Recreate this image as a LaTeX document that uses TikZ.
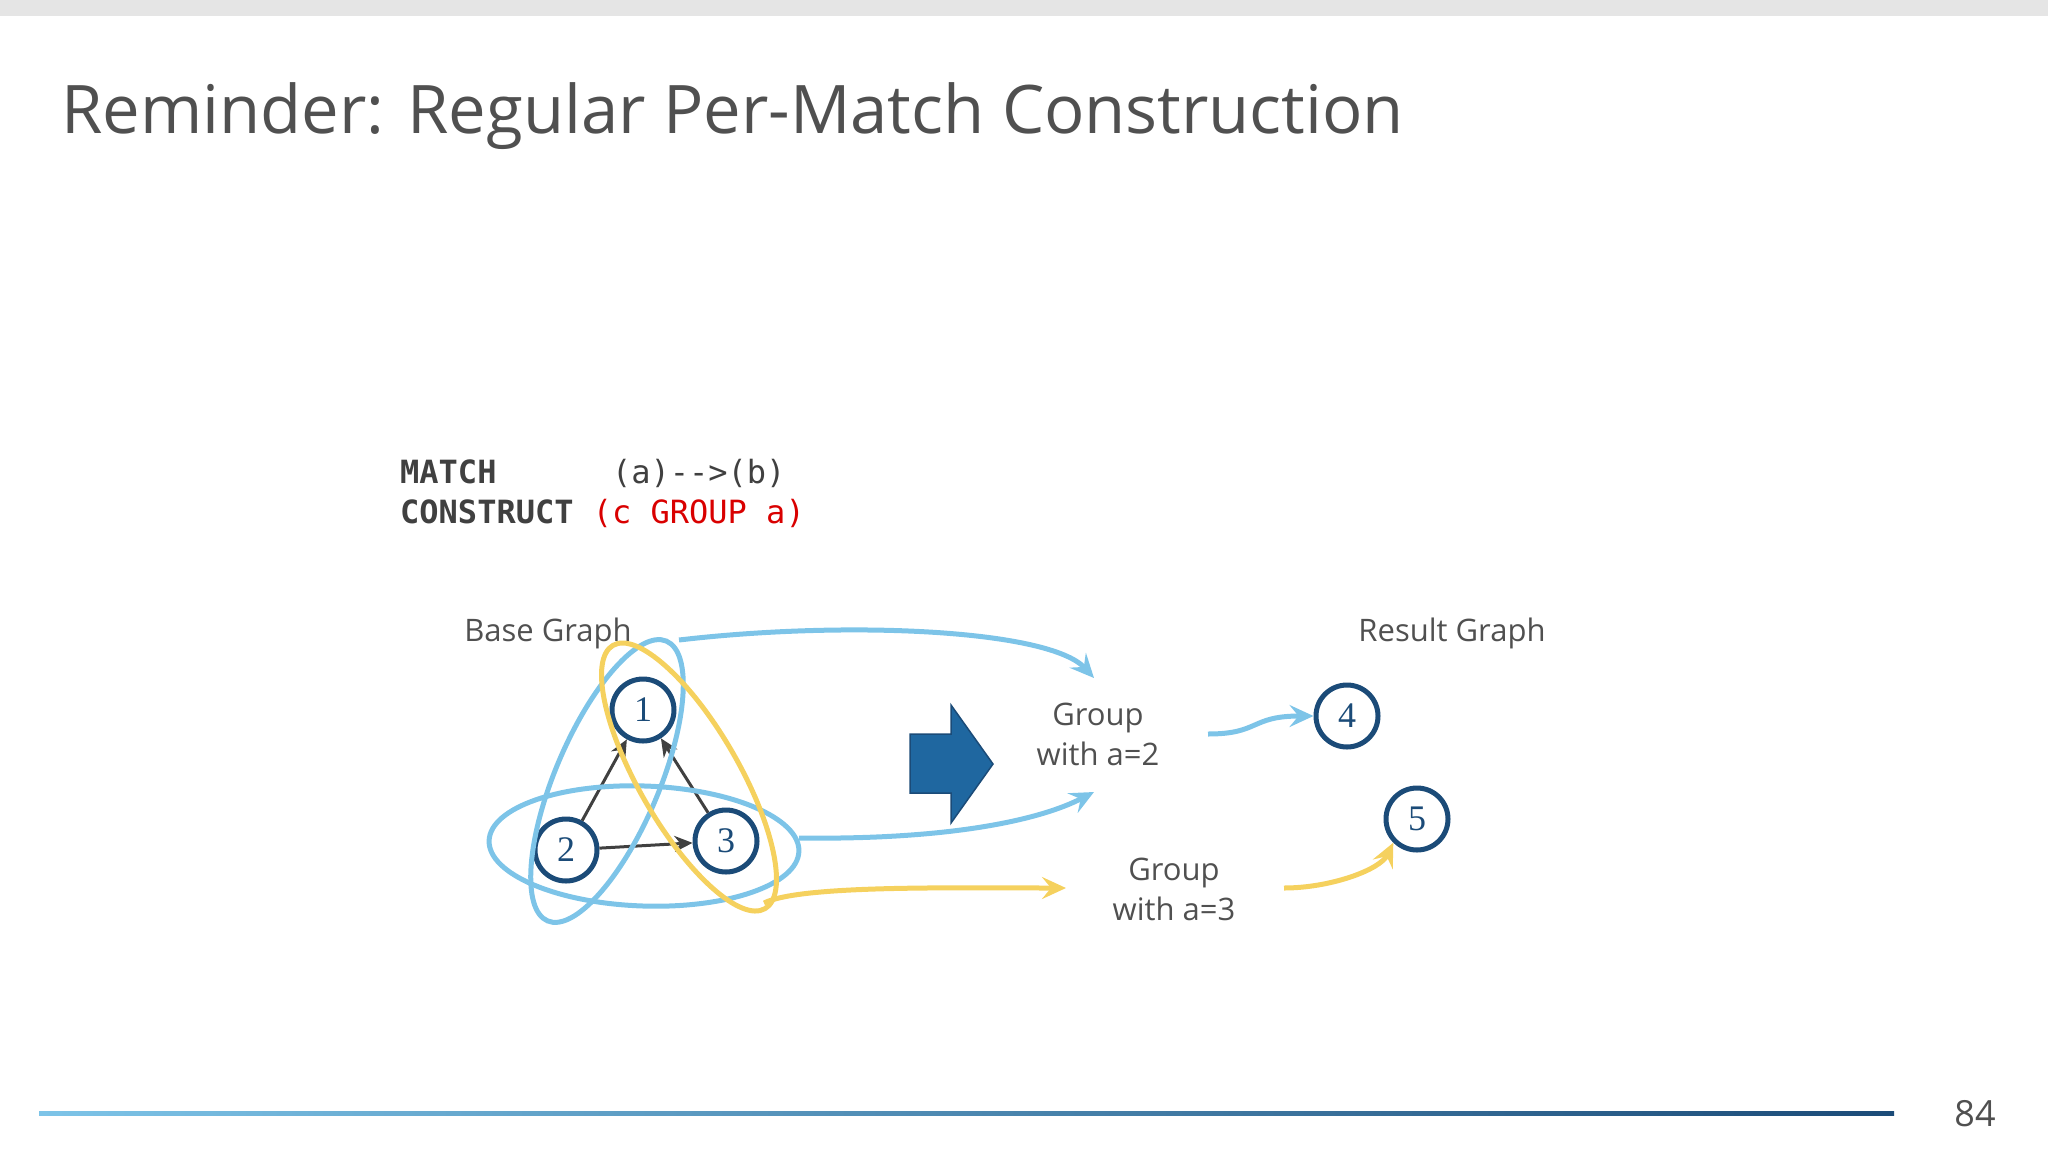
\documentclass[tikz,border=0pt]{standalone}
\usepackage{fontspec}
\setmainfont{Open Sans}
\setmonofont{DejaVu Sans Mono}
\newfontfamily\numfont{Liberation Serif}
\usetikzlibrary{arrows.meta}
\definecolor{nodeblue}{HTML}{1B4B78}
\definecolor{lblue}{HTML}{7DC4E8}
\definecolor{lyellow}{HTML}{F5D15E}
\definecolor{txtgray}{HTML}{505050}
\definecolor{arrblue}{HTML}{1F67A0}
\begin{document}
\begin{tikzpicture}[x=1pt,y=-1pt,
  gnode/.style={circle,draw=nodeblue,line width=5pt,minimum size=62pt,inner sep=0pt,text=nodeblue,font=\fontsize{36}{36}\selectfont\numfont},
  lbl/.style={text=txtgray,font=\fontsize{31}{40}\selectfont,align=center},
  edge/.style={draw=black!75,line width=3pt,-{Stealth[length=18pt,width=16pt]}},
  bcurve/.style={draw=lblue,line width=5pt,-{Stealth[length=24pt,width=22pt,inset=9pt]}},
  ycurve/.style={draw=lyellow,line width=5pt,-{Stealth[length=24pt,width=22pt,inset=9pt]}},
  ell/.style={line width=5pt}]
\useasboundingbox (0,0) rectangle (2048,1152);
\fill[black!10] (0,0) rectangle (2048,16);
\node[anchor=base west,text=txtgray,font=\fontsize{67}{74}\selectfont,inner sep=0pt] (title) at (61,133) {Reminder: Regular Per-Match Construction};
% code
\node[anchor=west,inner sep=0pt,font=\fontsize{32}{36}\selectfont\ttfamily,text=black!75] (c1) at (400,473) {\textbf{MATCH}\ \ \ \ \ \ (a)-->(b)};
\node[anchor=west,inner sep=0pt,font=\fontsize{32}{36}\selectfont\ttfamily,text=black!75] (c2) at (400,513) {\textbf{CONSTRUCT} \textcolor{red!85!black}{(c GROUP a)}};
\node[lbl] (bg) at (548,633) {Base Graph};
\node[lbl] (rg) at (1452,633) {Result Graph};
% nodes
\node[gnode] (n1) at (643,710) {1};
\node[gnode] (n2) at (566,850) {2};
\node[gnode] (n3) at (726,841) {3};
\node[gnode] (n4) at (1347,716) {4};
\node[gnode] (n5) at (1417,819) {5};
\draw[edge] (n2) -- (n1);
\draw[edge] (n3) -- (n1);
\draw[edge] (n2) -- (n3);
% ellipses
\draw[ell,lblue] (607,781) ellipse[x radius=152,y radius=52,rotate=67];
\draw[ell,lblue] (644,846) ellipse[x radius=155,y radius=60,rotate=-2];
\draw[ell,lyellow] (689,777) ellipse[x radius=152,y radius=50,rotate=120];
\coordinate (e1) at (679,640);
\coordinate (e2) at (799,838);
\coordinate (e3) at (764,903);
% big arrow
\draw[draw=nodeblue,fill=arrblue,line width=1.5pt] (910,734) -- (951,734) -- (951,705) -- (993,764) -- (951,823) -- (951,793) -- (910,793) -- cycle;
% labels
\node[lbl] (g2) at (1098,734) {Group\\with a=2};
\node[lbl] (g3) at (1174,889) {Group\\with a=3};
\coordinate (t1) at (1094,678);
\coordinate (t2) at (1094,792);
\coordinate (t3) at (1066,888);
\coordinate (s4) at (1208,734);
\coordinate (s5) at (1284,888);
% curves
\draw[bcurve] (e1) .. controls (850,620) and (1050,630) .. (t1);
\draw[bcurve] (e2) .. controls (950,840) and (1040,820) .. (t2);
\draw[ycurve] (e3) .. controls (800,885) and (950,888) .. (t3);
\draw[bcurve] (s4) .. controls (1260,734) and (1250,716) .. (n4.west);
\draw[ycurve] (s5) .. controls (1330,888) and (1380,870) .. (n5.south west);
% bottom line
\shade[left color=lblue,right color=nodeblue] (39,1111) rectangle (1894,1115);
\node[text=txtgray,font=\fontsize{36}{40}\selectfont] (pg) at (1975,1114) {84};
\end{tikzpicture}
\end{document}
